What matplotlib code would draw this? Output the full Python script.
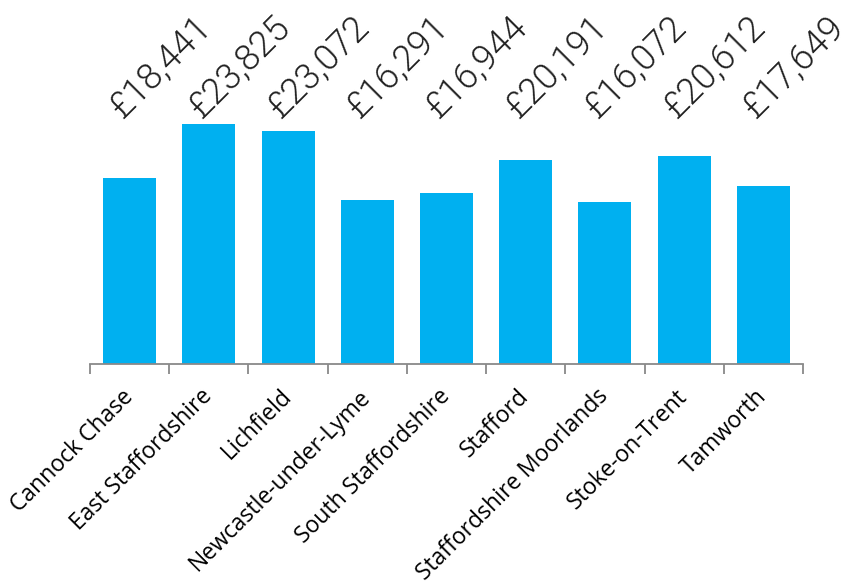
import matplotlib
matplotlib.use('Agg')
from matplotlib import pyplot as plt
from matplotlib.transforms import blended_transform_factory, offset_copy

districts = ['Cannock Chase', 'East Staffordshire', 'Lichfield', 'Newcastle-under-Lyme',
             'South Staffordshire', 'Stafford', 'Staffordshire Moorlands', 'Stoke-on-Trent',
             'Tamworth']
values = [18441, 23825, 23072, 16291, 16944, 20191, 16072, 20612, 17649]

fig = plt.figure(figsize=(8.51, 5.82), dpi=100)
ax = fig.add_axes([90/851., 218/582., 713/851., 359/582.])

x = range(len(districts))
ax.bar(x, values, width=0.67, color='#00B0F0')

ax.set_xlim(-0.5, len(districts) - 0.5)
ax.set_ylim(0, 35600)

# value labels sit in a row along the top, tilted up to the right
trans = offset_copy(blended_transform_factory(ax.transData, ax.transAxes),
                    fig=fig, x=22, y=0, units='points')
for i, v in zip(x, values):
    ax.text(i, 0.827, '\u00a3{:,}'.format(v), transform=trans,
            rotation=45, rotation_mode='anchor', ha='center', va='center',
            fontsize=26, family='Roboto', fontweight=300, color='#222222')

for s in ['top', 'right', 'left']:
    ax.spines[s].set_visible(False)
ax.spines['bottom'].set_color('#898989')
ax.spines['bottom'].set_linewidth(1.3)
ax.set_yticks([])

# ticks between categories, labels at the centres
ax.set_xticks([i - 0.5 for i in range(len(districts) + 1)])
ax.set_xticklabels([])
ax.tick_params(axis='x', which='major', length=7, width=1.3, color='#898989')
ax.set_xticks(list(x), minor=True)
ax.set_xticklabels(districts, minor=True, rotation=45, ha='right', va='center',
                   rotation_mode='anchor', fontsize=16.5, family='Open Sans', color='black')
ax.tick_params(axis='x', which='minor', length=0, pad=21)

fig.savefig('out.png', dpi=100)
